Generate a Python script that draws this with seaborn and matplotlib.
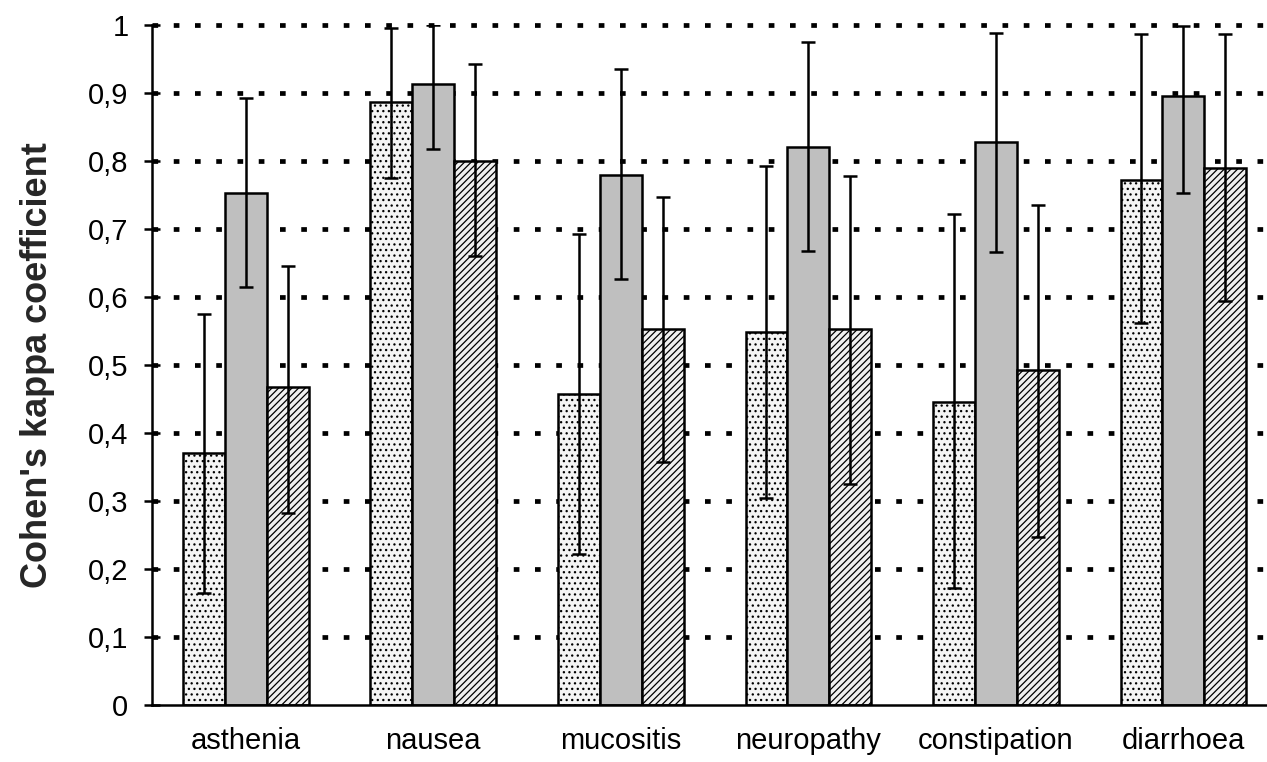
import matplotlib
matplotlib.use("Agg")
import matplotlib.pyplot as plt
import numpy as np
import pandas as pd
import seaborn as sns

# Symptoms on the x axis
symptoms = ["asthenia", "nausea", "mucositis", "neuropathy", "constipation", "diarrhoea"]
comparisons = ["Comparison 1", "Comparison 2", "Comparison 3"]

# Cohen's kappa per comparison, with lower / upper confidence limits
kappa_1 = [0.370, 0.887, 0.457, 0.548, 0.445, 0.772]
lower_1 = [0.165, 0.775, 0.222, 0.305, 0.172, 0.562]
upper_1 = [0.575, 0.995, 0.692, 0.793, 0.722, 0.987]

kappa_2 = [0.753, 0.913, 0.780, 0.820, 0.828, 0.896]
lower_2 = [0.615, 0.818, 0.627, 0.668, 0.666, 0.753]
upper_2 = [0.893, 1.000, 0.935, 0.975, 0.988, 0.999]

kappa_3 = [0.468, 0.800, 0.553, 0.553, 0.493, 0.790]
lower_3 = [0.283, 0.660, 0.357, 0.325, 0.247, 0.594]
upper_3 = [0.645, 0.942, 0.747, 0.778, 0.735, 0.987]

y_ticks = [0, 0.1, 0.2, 0.3, 0.4, 0.5, 0.6, 0.7, 0.8, 0.9, 1.0]
y_tick_labels = ["0", "0,1", "0,2", "0,3", "0,4", "0,5", "0,6", "0,7", "0,8", "0,9", "1"]

kappas = [kappa_1, kappa_2, kappa_3]
lowers = [lower_1, lower_2, lower_3]
uppers = [upper_1, upper_2, upper_3]

df = pd.DataFrame({
    "symptom": np.repeat([symptoms], 3, axis=0).ravel(),
    "comparison": np.repeat(comparisons, len(symptoms)),
    "kappa": np.concatenate(kappas),
})

sns.set_theme(style="white")
plt.rcParams["font.family"] = ["Liberation Sans", "DejaVu Sans"]
plt.rcParams["hatch.linewidth"] = 0.9

fig = plt.figure(figsize=(12.67, 7.62), dpi=100)
ax = fig.add_axes([0.12, 0.0748, 0.888, 0.8924])

face_colors = {"Comparison 1": "#f4f4f4", "Comparison 2": "#bfbfbf", "Comparison 3": "#f0f0f0"}
sns.barplot(data=df, x="symptom", y="kappa", hue="comparison", order=symptoms,
            hue_order=comparisons, palette=face_colors, width=0.67, errorbar=None,
            saturation=1, legend=False, ax=ax, zorder=2)

hatches = ["...", "", "/////"]
for container, hatch, k, lo, hi in zip(ax.containers, hatches, kappas, lowers, uppers):
    xs = []
    for bar in container:
        bar.set_hatch(hatch)
        bar.set_edgecolor("black")
        bar.set_linewidth(1.8)
        xs.append(bar.get_x() + bar.get_width() / 2)
    k = np.asarray(k)
    err = np.vstack([k - np.asarray(lo), np.asarray(hi) - k])
    ax.errorbar(xs, k, yerr=err, fmt="none", ecolor="black", elinewidth=1.8,
                capsize=5, capthick=1.8, zorder=4)

# dotted horizontal reference lines
for yv in y_ticks[1:]:
    ax.axhline(yv, color="black", lw=3.4, linestyle=(0, (1.2, 3.3)),
               dash_capstyle="butt", zorder=1, clip_on=False)

ax.set_xlim(-0.5, len(symptoms) - 0.5)
ax.set_ylim(0, 1.0)
ax.set_yticks(y_ticks)
ax.set_yticklabels(y_tick_labels, fontsize=21)
ax.set_xticks(range(len(symptoms)))
ax.set_xticklabels(symptoms, fontsize=21)
ax.set_xticks(np.arange(-0.5, len(symptoms), 1.0), minor=True)
ax.tick_params(axis="x", which="major", length=0, pad=16, colors="black")
ax.tick_params(axis="x", which="minor", length=9, width=1.8, direction="out", colors="black")
ax.tick_params(axis="y", which="major", length=12, width=1.8, direction="inout", pad=11,
               colors="black", left=True)

ax.set_xlabel("")
ax.set_ylabel("Cohen's kappa coefficient", fontsize=26, fontweight="bold", labelpad=24)

for side in ["top", "right"]:
    ax.spines[side].set_visible(False)
for side in ["left", "bottom"]:
    ax.spines[side].set_color("black")
    ax.spines[side].set_linewidth(1.8)
    ax.spines[side].set_zorder(5)

fig.savefig("out.png", dpi=100)
